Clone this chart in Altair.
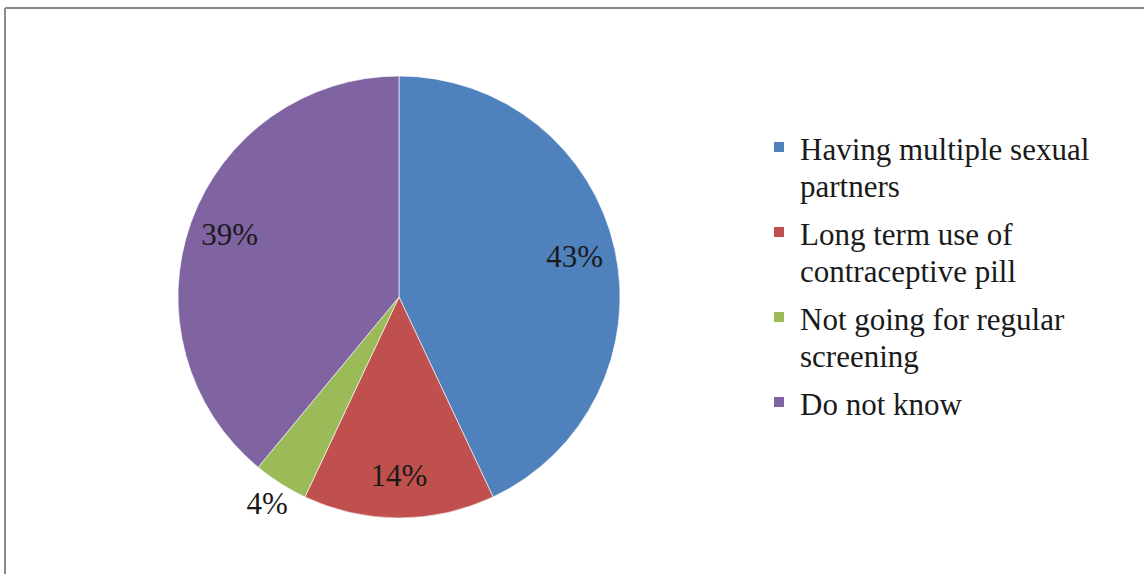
import altair as alt
import pandas as pd

categories = [
    "Having multiple sexual partners",
    "Long term use of contraceptive pill",
    "Not going for regular screening",
    "Do not know",
]
legend_labels = [
    "Having multiple sexual\npartners",
    "Long term use of\ncontraceptive pill",
    "Not going for regular\nscreening",
    "Do not know",
]
values = [43, 14, 4, 39]
pct_labels = ["43%", "14%", "4%", "39%"]
colors = ["#4F81BD", "#C0504D", "#9BBB59", "#8064A2"]

df = pd.DataFrame({
    "category": categories,
    "legend_label": legend_labels,
    "value": values,
    "label": pct_labels,
    "idx": list(range(len(categories))),
})

FONT = "Liberation Serif"
FS = 31
color_scale = alt.Scale(domain=categories, range=colors)

base = alt.Chart(df)

pie = base.mark_arc(stroke="#ffffff", strokeWidth=1, strokeOpacity=0.6).encode(
    theta=alt.Theta("value:Q", stack=True),
    color=alt.Color("category:N", scale=color_scale, legend=None),
    order=alt.Order("idx:Q"),
)

inside = base.mark_text(
    radius=180, font=FONT, fontSize=FS, color="#1a1a1a", baseline="middle", align="center"
).encode(
    theta=alt.Theta("value:Q", stack=True),
    order=alt.Order("idx:Q"),
    text=alt.condition("datum.value >= 10", alt.Text("label:N"), alt.value("")),
)

outside = base.mark_text(
    radius=246, font=FONT, fontSize=FS, color="#1a1a1a", baseline="middle", align="center"
).encode(
    theta=alt.Theta("value:Q", stack=True),
    order=alt.Order("idx:Q"),
    text=alt.condition("datum.value < 10", alt.Text("label:N"), alt.value("")),
)

y_scale = alt.Scale(domain=categories, range=[71, 326], padding=0)

leg_sq = base.mark_square(size=100, opacity=1).encode(
    x=alt.value(601),
    y=alt.Y("category:N", scale=y_scale, axis=None),
    color=alt.Color("category:N", scale=color_scale, legend=None),
)

leg_txt = base.mark_text(
    align="left", baseline="alphabetic", dy=13, font=FONT, fontSize=FS,
    lineBreak="\n", lineHeight=37, color="#1a1a1a",
).encode(
    x=alt.value(622),
    y=alt.Y("category:N", scale=y_scale, axis=None),
    text="legend_label:N",
)

frame_top = alt.Chart(pd.DataFrame({"f": [0]})).mark_rule(
    stroke="#8a8a8a", strokeWidth=2
).encode(
    x=alt.value(-173), x2=alt.value(1100),
    y=alt.value(-68),
)
frame_left = alt.Chart(pd.DataFrame({"f": [0]})).mark_rule(
    stroke="#8a8a8a", strokeWidth=2
).encode(
    x=alt.value(-173),
    y=alt.value(-68), y2=alt.value(600),
)

chart = alt.layer(frame_top, frame_left, pie, inside, outside, leg_sq, leg_txt).properties(
    width=442, height=442,
    autosize=alt.AutoSizeParams(type="none"),
    padding={"left": 178, "top": 76, "right": 524, "bottom": 56},
    background="white",
).configure_view(stroke=None).configure_text(font=FONT)

chart.save("out.html", embed_options={"renderer": "svg", "actions": False})
